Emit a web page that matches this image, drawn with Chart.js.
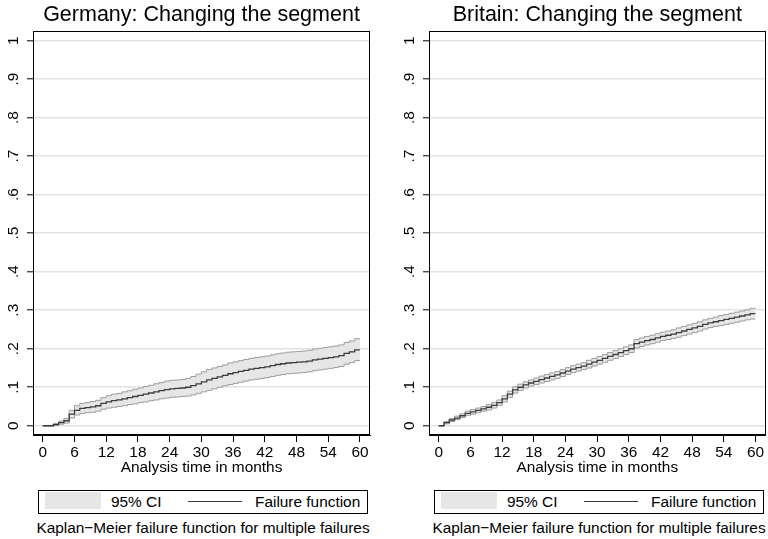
<!DOCTYPE html>
<html><head><meta charset="utf-8">
<script src="https://cdn.jsdelivr.net/npm/chart.js@4"></script>
<style>
html,body{margin:0;padding:0;background:#fff;}
body{width:768px;height:539px;position:relative;overflow:hidden;font-family:"Liberation Sans",Arial,sans-serif;color:#000;}
canvas{position:absolute;top:0;}
.leg{position:absolute;top:490px;width:330px;height:24px;border:1px solid #000;box-sizing:border-box;font-size:15.4px;}
.leg .sw{position:absolute;left:6px;top:1px;width:56px;height:17px;background:#e6e6e6;}
.leg .t1{position:absolute;left:72px;top:0;line-height:22px;white-space:nowrap;}
.leg .ln{position:absolute;left:149px;top:10px;width:54px;height:0;border-top:1px solid #3c3c3c;}
.leg .t2{position:absolute;left:216px;top:0;line-height:22px;white-space:nowrap;}
.cap{position:absolute;top:519px;width:366px;text-align:center;font-size:15.4px;line-height:18px;white-space:nowrap;}
</style>
</head><body>
<canvas id="c1" width="384" height="480" style="left:0"></canvas>
<canvas id="c2" width="384" height="480" style="left:384px"></canvas>
<div class="leg" style="left:38px"><div class="sw"></div><span class="t1">95% CI</span><div class="ln"></div><span class="t2">Failure function</span></div>
<div class="leg" style="left:434px"><div class="sw"></div><span class="t1">95% CI</span><div class="ln"></div><span class="t2">Failure function</span></div>
<div class="cap" style="left:20px">Kaplan−Meier failure function for multiple failures</div>
<div class="cap" style="left:416px">Kaplan−Meier failure function for multiple failures</div>
<script>
const FONT = '"Liberation Sans", Arial, sans-serif';
const months = [0,1,2,3,4,5,6,7,8,9,10,11,12,13,14,15,16,17,18,19,20,21,22,23,24,25,26,27,28,29,30,31,32,33,34,35,36,37,38,39,40,41,42,43,44,45,46,47,48,49,50,51,52,53,54,55,56,57,58,59,60];
const xTicks = [0,6,12,18,24,30,36,42,48,54,60];
const yTicks = [0,0.1,0.2,0.3,0.4,0.5,0.6,0.7,0.8,0.9,1];
const yTickLabels = ['0','.1','.2','.3','.4','.5','.6','.7','.8','.9','1'];
const titles = ['Germany: Changing the segment','Britain: Changing the segment'];
const xAxisTitle = 'Analysis time in months';

const gerFail  = [0,0,0,0.003,0.008,0.013,0.030,0.040,0.045,0.047,0.049,0.052,0.058,0.062,0.065,0.067,0.070,0.073,0.076,0.079,0.082,0.085,0.088,0.091,0.094,0.096,0.097,0.098,0.100,0.104,0.109,0.114,0.119,0.123,0.127,0.131,0.135,0.138,0.141,0.144,0.147,0.149,0.151,0.153,0.156,0.159,0.161,0.163,0.164,0.165,0.166,0.168,0.171,0.173,0.175,0.177,0.179,0.182,0.188,0.192,0.197];
const gerLower = [0,0,0,0.001,0.004,0.007,0.020,0.028,0.032,0.034,0.035,0.038,0.043,0.046,0.048,0.050,0.052,0.055,0.057,0.060,0.062,0.065,0.067,0.070,0.072,0.074,0.075,0.076,0.077,0.080,0.084,0.088,0.092,0.096,0.100,0.104,0.107,0.110,0.113,0.116,0.119,0.121,0.123,0.125,0.128,0.131,0.133,0.135,0.136,0.137,0.138,0.140,0.143,0.145,0.147,0.149,0.151,0.154,0.160,0.164,0.169];
const gerUpper = [0,0,0,0.006,0.012,0.019,0.040,0.052,0.058,0.060,0.063,0.066,0.073,0.078,0.082,0.084,0.088,0.091,0.095,0.098,0.102,0.105,0.109,0.112,0.116,0.118,0.119,0.120,0.123,0.128,0.134,0.140,0.146,0.150,0.154,0.158,0.163,0.166,0.169,0.172,0.175,0.177,0.179,0.181,0.184,0.187,0.189,0.191,0.192,0.193,0.194,0.196,0.199,0.201,0.203,0.205,0.207,0.210,0.216,0.220,0.226];

const britFail  = [0,0,0.008,0.015,0.020,0.026,0.032,0.036,0.040,0.044,0.048,0.053,0.060,0.070,0.082,0.093,0.100,0.106,0.111,0.115,0.120,0.124,0.128,0.132,0.137,0.142,0.147,0.151,0.155,0.160,0.165,0.170,0.175,0.180,0.185,0.190,0.195,0.200,0.213,0.217,0.221,0.224,0.228,0.232,0.235,0.238,0.242,0.246,0.250,0.254,0.258,0.263,0.267,0.270,0.273,0.276,0.279,0.282,0.285,0.288,0.291];
const britLower = [0,0,0.005,0.011,0.016,0.021,0.027,0.030,0.034,0.038,0.041,0.046,0.053,0.062,0.074,0.085,0.092,0.098,0.103,0.107,0.111,0.115,0.119,0.123,0.128,0.133,0.138,0.142,0.146,0.150,0.155,0.160,0.165,0.170,0.175,0.180,0.185,0.190,0.202,0.206,0.210,0.213,0.217,0.221,0.224,0.227,0.230,0.234,0.238,0.242,0.246,0.251,0.255,0.258,0.260,0.263,0.266,0.269,0.272,0.275,0.277];
const britUpper = [0,0,0.011,0.019,0.025,0.031,0.038,0.042,0.046,0.050,0.055,0.060,0.067,0.078,0.090,0.101,0.108,0.114,0.119,0.124,0.129,0.133,0.137,0.141,0.146,0.151,0.156,0.160,0.164,0.170,0.175,0.180,0.185,0.190,0.195,0.200,0.205,0.210,0.224,0.228,0.232,0.235,0.239,0.243,0.246,0.249,0.254,0.258,0.262,0.266,0.270,0.275,0.279,0.282,0.286,0.289,0.292,0.295,0.298,0.301,0.305];

function pts(vals){ return months.map((m,i)=>({x:m,y:vals[i]})); }

const frame = {
  id:'frame',
  afterDraw(chart){
    const a = chart.chartArea, ctx = chart.ctx;
    ctx.save();
    ctx.strokeStyle = '#000'; ctx.lineWidth = 1;
    ctx.strokeRect(Math.round(a.left)+0.5, Math.round(a.top)+0.5, Math.round(a.right-a.left)-1, Math.round(a.bottom-a.top)-1);
    ctx.restore();
  }
};

function makeChart(id, title, fail, lo, hi, yAxisW, padRight){
  return new Chart(document.getElementById(id), {
    type:'line',
    data:{datasets:[
      {label:'lower', data:pts(lo), stepped:'after', borderColor:'#9c9c9c', borderWidth:1, pointRadius:0, fill:false, order:1},
      {label:'95% CI', data:pts(hi), stepped:'after', borderColor:'#9c9c9c', borderWidth:1, pointRadius:0, fill:0, backgroundColor:'#e6e6e6', order:1},
      {label:'Failure function', data:pts(fail), stepped:'after', borderColor:'#3c3c3c', borderWidth:1.3, pointRadius:0, fill:false, order:0}
    ]},
    options:{
      responsive:false, animation:false, devicePixelRatio:1,
      layout:{padding:{left:0,right:padRight,top:0,bottom:0}},
      plugins:{
        legend:{display:false}, tooltip:{enabled:false},
        title:{display:true, text:title, fullSize:false, color:'#000', font:{family:FONT,size:21.5,weight:'normal',lineHeight:1.2}, padding:{top:2,bottom:3.2}}
      },
      scales:{
        x:{type:'linear', min:-1.85, max:61.9,
          afterBuildTicks:s=>{ s.ticks = xTicks.map(v=>({value:v})); },
          afterFit:s=>{ s.height = 45; s.paddingLeft = 0; s.paddingRight = 0; },
          grid:{drawOnChartArea:false, tickLength:7, tickColor:'#000', tickWidth:1},
          border:{color:'#000', width:1},
          ticks:{color:'#000', font:{family:FONT,size:15.4}, padding:2, autoSkip:false, maxRotation:0, minRotation:0, callback:v=>String(v)},
          title:{display:true, text:xAxisTitle, color:'#000', font:{family:FONT,size:15.4}, padding:{top:0,bottom:3}}
        },
        y:{type:'linear', min:-0.024, max:1.025,
          afterBuildTicks:s=>{ s.ticks = yTicks.map(v=>({value:v})); },
          afterFit:s=>{ s.width = yAxisW; s.paddingTop = 0; s.paddingBottom = 0; },
          grid:{drawOnChartArea:true, color:'#e2e2e2', lineWidth:1.6, tickLength:6, tickColor:'#000', tickWidth:1},
          border:{color:'#000', width:1},
          ticks:{color:'#000', font:{family:FONT,size:15.4}, padding:7, autoSkip:false, minRotation:90, maxRotation:90, crossAlign:'center',
            callback:(v,i)=>yTickLabels[i]}
        }
      }
    },
    plugins:[frame]
  });
}

makeChart('c1', titles[0], gerFail, gerLower, gerUpper, 33, 14);
makeChart('c2', titles[1], britFail, britLower, britUpper, 45, 2.5);
</script>
</body></html>
